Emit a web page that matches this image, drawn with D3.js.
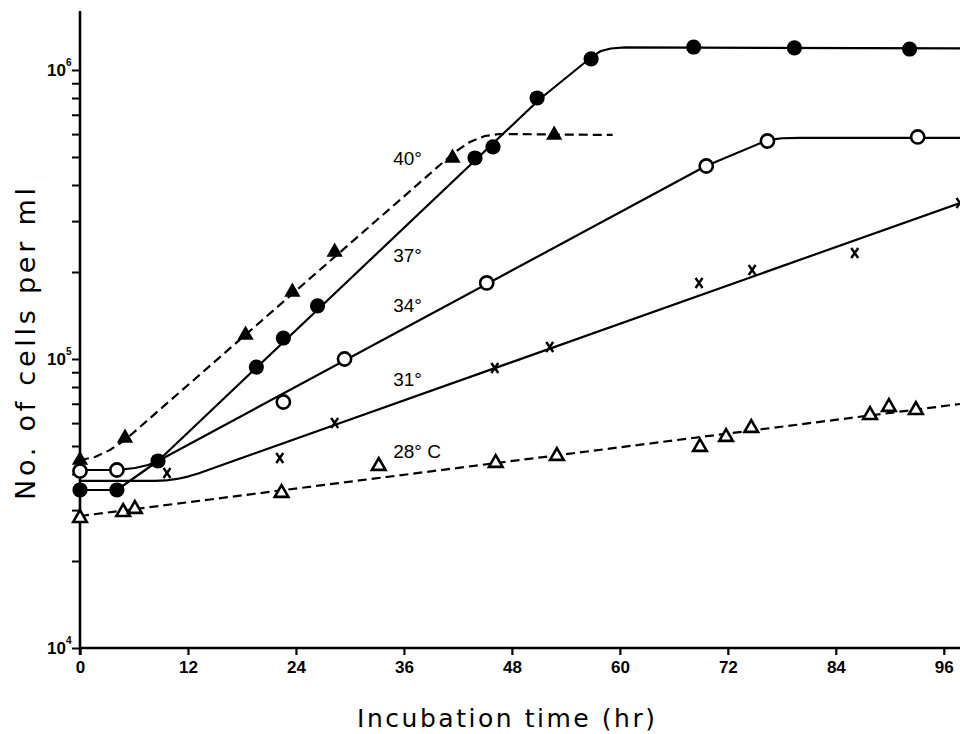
<!DOCTYPE html>
<html>
<head>
<meta charset="utf-8">
<script src="https://cdn.jsdelivr.net/npm/d3@7"></script>
<style>
  html, body { margin: 0; padding: 0; background: #fff; }
  svg { display: block; }
</style>
</head>
<body>
<svg id="chart" width="960" height="734"></svg>
<script>
// ---------- data (hours, cells per ml) ----------
const xTickValues = [0, 12, 24, 36, 48, 60, 72, 84, 96];
const yDecades = [4, 5, 6];

// 40° : filled triangles, dashed fit
const t40 = [0, 5.0, 18.4, 23.6, 28.3, 41.4, 52.7];
const n40 = [44700, 53300, 121100, 170500, 234600, 496000, 596000];
const fitT40 = [0, 1.67, 3.33, 5.0, 40, 41.67, 43.33, 45, 46.67, 59.2];
const fitN40 = [44700, 45800, 48430, 52450, 469000, 520300, 563600, 591000, 600500, 596000];

// 37° : filled circles, solid fit
const t37 = [0, 4.1, 8.67, 19.6, 22.6, 26.4, 43.9, 45.9, 50.8, 56.8, 68.2, 79.4, 92.2];
const n37 = [35220, 35220, 44370, 93800, 118200, 152600, 496000, 541600, 800000, 1092000, 1201000, 1192000, 1182000];
const fitT37 = [0, 4.1, 8.67, 51.11, 57.0, 57.89, 59.0, 60.56, 97.8];
const fitN37 = [35220, 35220, 44370, 793600, 1118000, 1163000, 1187000, 1196600, 1187000];

// 34° : open circles, solid fit
const t34 = [0, 4.1, 22.6, 29.4, 45.2, 69.6, 76.4, 93.1];
const n34 = [40980, 41300, 71000, 100000, 183300, 465300, 568000, 586500];
const fitT34 = [0, 4.1, 6.11, 7.56, 8.67, 69.56, 76.44, 78.0, 80.0, 97.8];
const fitN34 = [41300, 41300, 41960, 42980, 44370, 465300, 572300, 580400, 581800, 581800];

// 31° : x marks, solid fit
const t31 = [9.67, 22.2, 28.3, 46.1, 52.2, 68.8, 74.7, 86.1, 97.8];
const n31 = [40330, 45440, 60050, 93100, 110000, 183300, 203200, 232700, 346600];
const fitT31 = [0, 8.33, 9.56, 10.78, 12.0, 13.22, 97.8];
const fitN31 = [37840, 37840, 37990, 38450, 39190, 40260, 346600];

// 28° : open triangles, dashed fit
const t28 = [0, 4.8, 6.1, 22.4, 33.2, 46.2, 53.0, 68.9, 71.8, 74.6, 87.8, 89.9, 92.9];
const n28 = [28170, 29550, 30270, 34390, 42640, 43670, 46170, 49610, 53720, 57710, 64000, 68220, 66600];
const fitT28 = [0, 97.8];
const fitN28 = [28620, 69870];

// curve labels (anchored in data units)
const labelText = ["40°", "37°", "34°", "31°", "28° C"];
const labelT = [34.8, 34.8, 34.8, 34.8, 34.8];
const labelN = [469200, 216600, 145400, 80660, 45440];

// ---------- drawing ----------
const svg = d3.select("#chart");
svg.append("rect").attr("width", 960).attr("height", 734).attr("fill", "#fff");

const x = d3.scaleLinear().domain([0, 97.8]).range([80, 960]);
const y = d3.scaleLog().domain([1e4, 1.6e6]).range([648, 11]);

const zip = (a, b) => a.map((v, i) => [v, b[i]]);
const line = d3.line().x(d => x(d[0])).y(d => y(d[1])).curve(d3.curveLinear);

const font = "'Liberation Sans', Arial, sans-serif";
const titleFont = "'DejaVu Sans', 'Liberation Sans', sans-serif";

// Axes
const xAxis = d3.axisBottom(x).tickValues(xTickValues).tickSize(7).tickFormat(d3.format("d"));
const gx = svg.append("g").attr("transform", `translate(0,${y(1e4)})`).call(xAxis);
gx.select(".domain").attr("d", `M${x(0)},0H960`).attr("stroke-width", 2.6);
gx.selectAll(".tick line").attr("stroke-width", 2.2);
gx.selectAll(".tick text").attr("font-family", font).attr("font-size", 17)
  .attr("font-weight", "bold").attr("dy", "0.9em").attr("fill", "#000");

const minorTicks = [];
[4, 5].forEach(e => { for (let m = 1; m <= 9; m++) minorTicks.push(m * Math.pow(10, e)); });
minorTicks.push(1e6);
const yAxis = d3.axisLeft(y).tickValues(minorTicks).tickSize(8).tickFormat("");
const gy = svg.append("g").attr("transform", `translate(${x(0)},0)`).call(yAxis);
gy.select(".domain").attr("d", `M0,${y(1.6e6)}V${y(1e4) + 7}`).attr("stroke-width", 2.6);
gy.selectAll(".tick line").attr("stroke-width", 2);

// y tick labels 10^n
const yl = svg.append("g");
yDecades.forEach(e => {
  const v = Math.pow(10, e);
  yl.append("text").attr("x", x(0) - 14).attr("y", y(v) + 6)
    .attr("text-anchor", "end").attr("font-family", font).attr("font-size", 17)
    .attr("font-weight", "bold").text("10");
  yl.append("text").attr("x", x(0) - 14).attr("y", y(v) - 4)
    .attr("font-family", font).attr("font-size", 10).attr("font-weight", "bold").text(e);
});

// Axis titles
svg.append("text").attr("x", 357).attr("y", 727)
  .attr("font-family", titleFont).attr("font-size", 25)
  .attr("textLength", 298).attr("lengthAdjust", "spacing")
  .text("Incubation time (hr)");
svg.append("text").attr("transform", "translate(35,500) rotate(-90)")
  .attr("font-family", titleFont).attr("font-size", 27)
  .attr("textLength", 312).attr("lengthAdjust", "spacing")
  .text("No. of cells per ml");

// Fit lines
const fits = [
  { d: zip(fitT40, fitN40), dash: "9,5" },
  { d: zip(fitT37, fitN37), dash: null },
  { d: zip(fitT34, fitN34), dash: null },
  { d: zip(fitT31, fitN31), dash: null },
  { d: zip(fitT28, fitN28), dash: "9,5" }
];
fits.forEach(f => {
  svg.append("path").attr("d", line(f.d)).attr("fill", "none")
    .attr("stroke", "#000").attr("stroke-width", 2.2)
    .attr("stroke-linejoin", "round")
    .attr("stroke-dasharray", f.dash);
});

// Markers
const g = svg.append("g");
// 28 open triangles
g.selectAll(".t28").data(zip(t28, n28)).join("path")
  .attr("transform", d => `translate(${x(d[0])},${y(d[1])})`)
  .attr("d", d3.symbol(d3.symbolTriangle, 80)())
  .attr("fill", "#fff").attr("stroke", "#000").attr("stroke-width", 2.6);
// 31 x marks
g.selectAll(".t31").data(zip(t31, n31)).join("path")
  .attr("transform", d => `translate(${x(d[0])},${y(d[1])})`)
  .attr("d", "M-3.5,-5L3.5,5M3.5,-5L-3.5,5")
  .attr("fill", "none").attr("stroke", "#000").attr("stroke-width", 2.4);
// 34 open circles
g.selectAll(".t34").data(zip(t34, n34)).join("circle")
  .attr("cx", d => x(d[0])).attr("cy", d => y(d[1])).attr("r", 6.6)
  .attr("fill", "#fff").attr("stroke", "#000").attr("stroke-width", 2.6);
// 37 filled circles
g.selectAll(".t37").data(zip(t37, n37)).join("circle")
  .attr("cx", d => x(d[0])).attr("cy", d => y(d[1])).attr("r", 7.6)
  .attr("fill", "#000");
// 40 filled triangles
g.selectAll(".t40").data(zip(t40, n40)).join("path")
  .attr("transform", d => `translate(${x(d[0])},${y(d[1])})`)
  .attr("d", d3.symbol(d3.symbolTriangle, 115)())
  .attr("fill", "#000");

// Curve labels
labelText.forEach((s, i) => {
  svg.append("text").attr("x", x(labelT[i])).attr("y", y(labelN[i]))
    .attr("font-family", font).attr("font-size", 19).text(s);
});
</script>
</body>
</html>
